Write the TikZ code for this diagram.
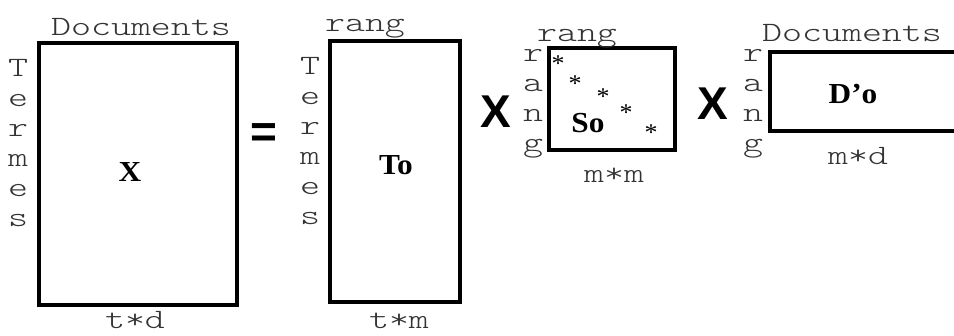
\documentclass[tikz,border=0pt]{standalone}
\usepackage{fontspec}
\setmainfont[FakeStretch=1.08]{Liberation Serif}
\setmonofont[Extension=.otf, FakeStretch=1.36]{lmmonolt10-regular}
\newfontfamily\opfont{Liberation Sans}
\begin{document}
\begin{tikzpicture}[x=1pt,y=-1pt,
  mat/.style={draw, line width=4pt, inner sep=0pt},
  lbl/.style={font=\ttfamily\fontsize{28}{28}\selectfont, text=black!80, inner sep=0pt, anchor=base},
  mname/.style={font=\bfseries\fontsize{29}{29}\selectfont, inner sep=0pt},
  op/.style={font=\opfont\bfseries\fontsize{46}{46}\selectfont, inner sep=0pt, anchor=base},
  starmark/.style={font=\fontsize{24}{24}\selectfont, inner sep=0pt, anchor=north}]
\path[use as bounding box] (0,0) rectangle (954,336);
\clip (0,0) rectangle (954,336);
% matrices
\node[mat, minimum width=198pt, minimum height=262pt] (Xbox) at (138,174) {};
\node[mat, minimum width=130pt, minimum height=261.5pt] (Tbox) at (394.5,171.75) {};
\node[mat, minimum width=126pt, minimum height=101.5pt] (Sbox) at (612,99.25) {};
\node[mat, minimum width=200pt, minimum height=79pt] (Dbox) at (870,91.5) {};
% names
\node[mname] (Xn) at (130,172.5) {X};
\node[mname] (Tn) at (396,165) {To};
\node[mname] (Sn) at (588,123) {So};
\node[mname] (Dn) at (853,94) {D’o};
% operators
\node[op] (eq) at (264,148) {=};
\node[op] (op1) at (496,128) {X};
\node[op] (op2) at (713,120) {X};
% horizontal labels
\node[lbl] (l1) at (141,36) {Documents};
\node[lbl] (l2) at (135,329) {t*d};
\node[lbl] (l3) at (365,32) {rang};
\node[lbl] (l4) at (399,329) {t*m};
\node[lbl] (l5) at (577,42) {rang};
\node[lbl] (l6) at (614,183) {m*m};
\node[lbl] (l7) at (852,42) {Documents};
\node[lbl] (l8) at (858,165) {m*d};
% vertical labels
\foreach \ch [count=\i] in {T,e,r,m,e,s}
  \node[lbl] (ta\i) at (18,47+30*\i) {\ch};
\foreach \ch [count=\i] in {T,e,r,m,e,s}
  \node[lbl] (tb\i) at (310,45+30*\i) {\ch};
\foreach \ch [count=\i] in {r,a,n,g}
  \node[lbl] (ra\i) at (533,32+30*\i) {\ch};
\foreach \ch [count=\i] in {r,a,n,g}
  \node[lbl] (rb\i) at (753,32+30*\i) {\ch};
% stars
\node[starmark] (s1) at (558,56) {*};
\node[starmark] (s2) at (575,76) {*};
\node[starmark] (s3) at (603,89) {*};
\node[starmark] (s4) at (626,105) {*};
\node[starmark] (s5) at (651,125) {*};
\end{tikzpicture}
\end{document}
